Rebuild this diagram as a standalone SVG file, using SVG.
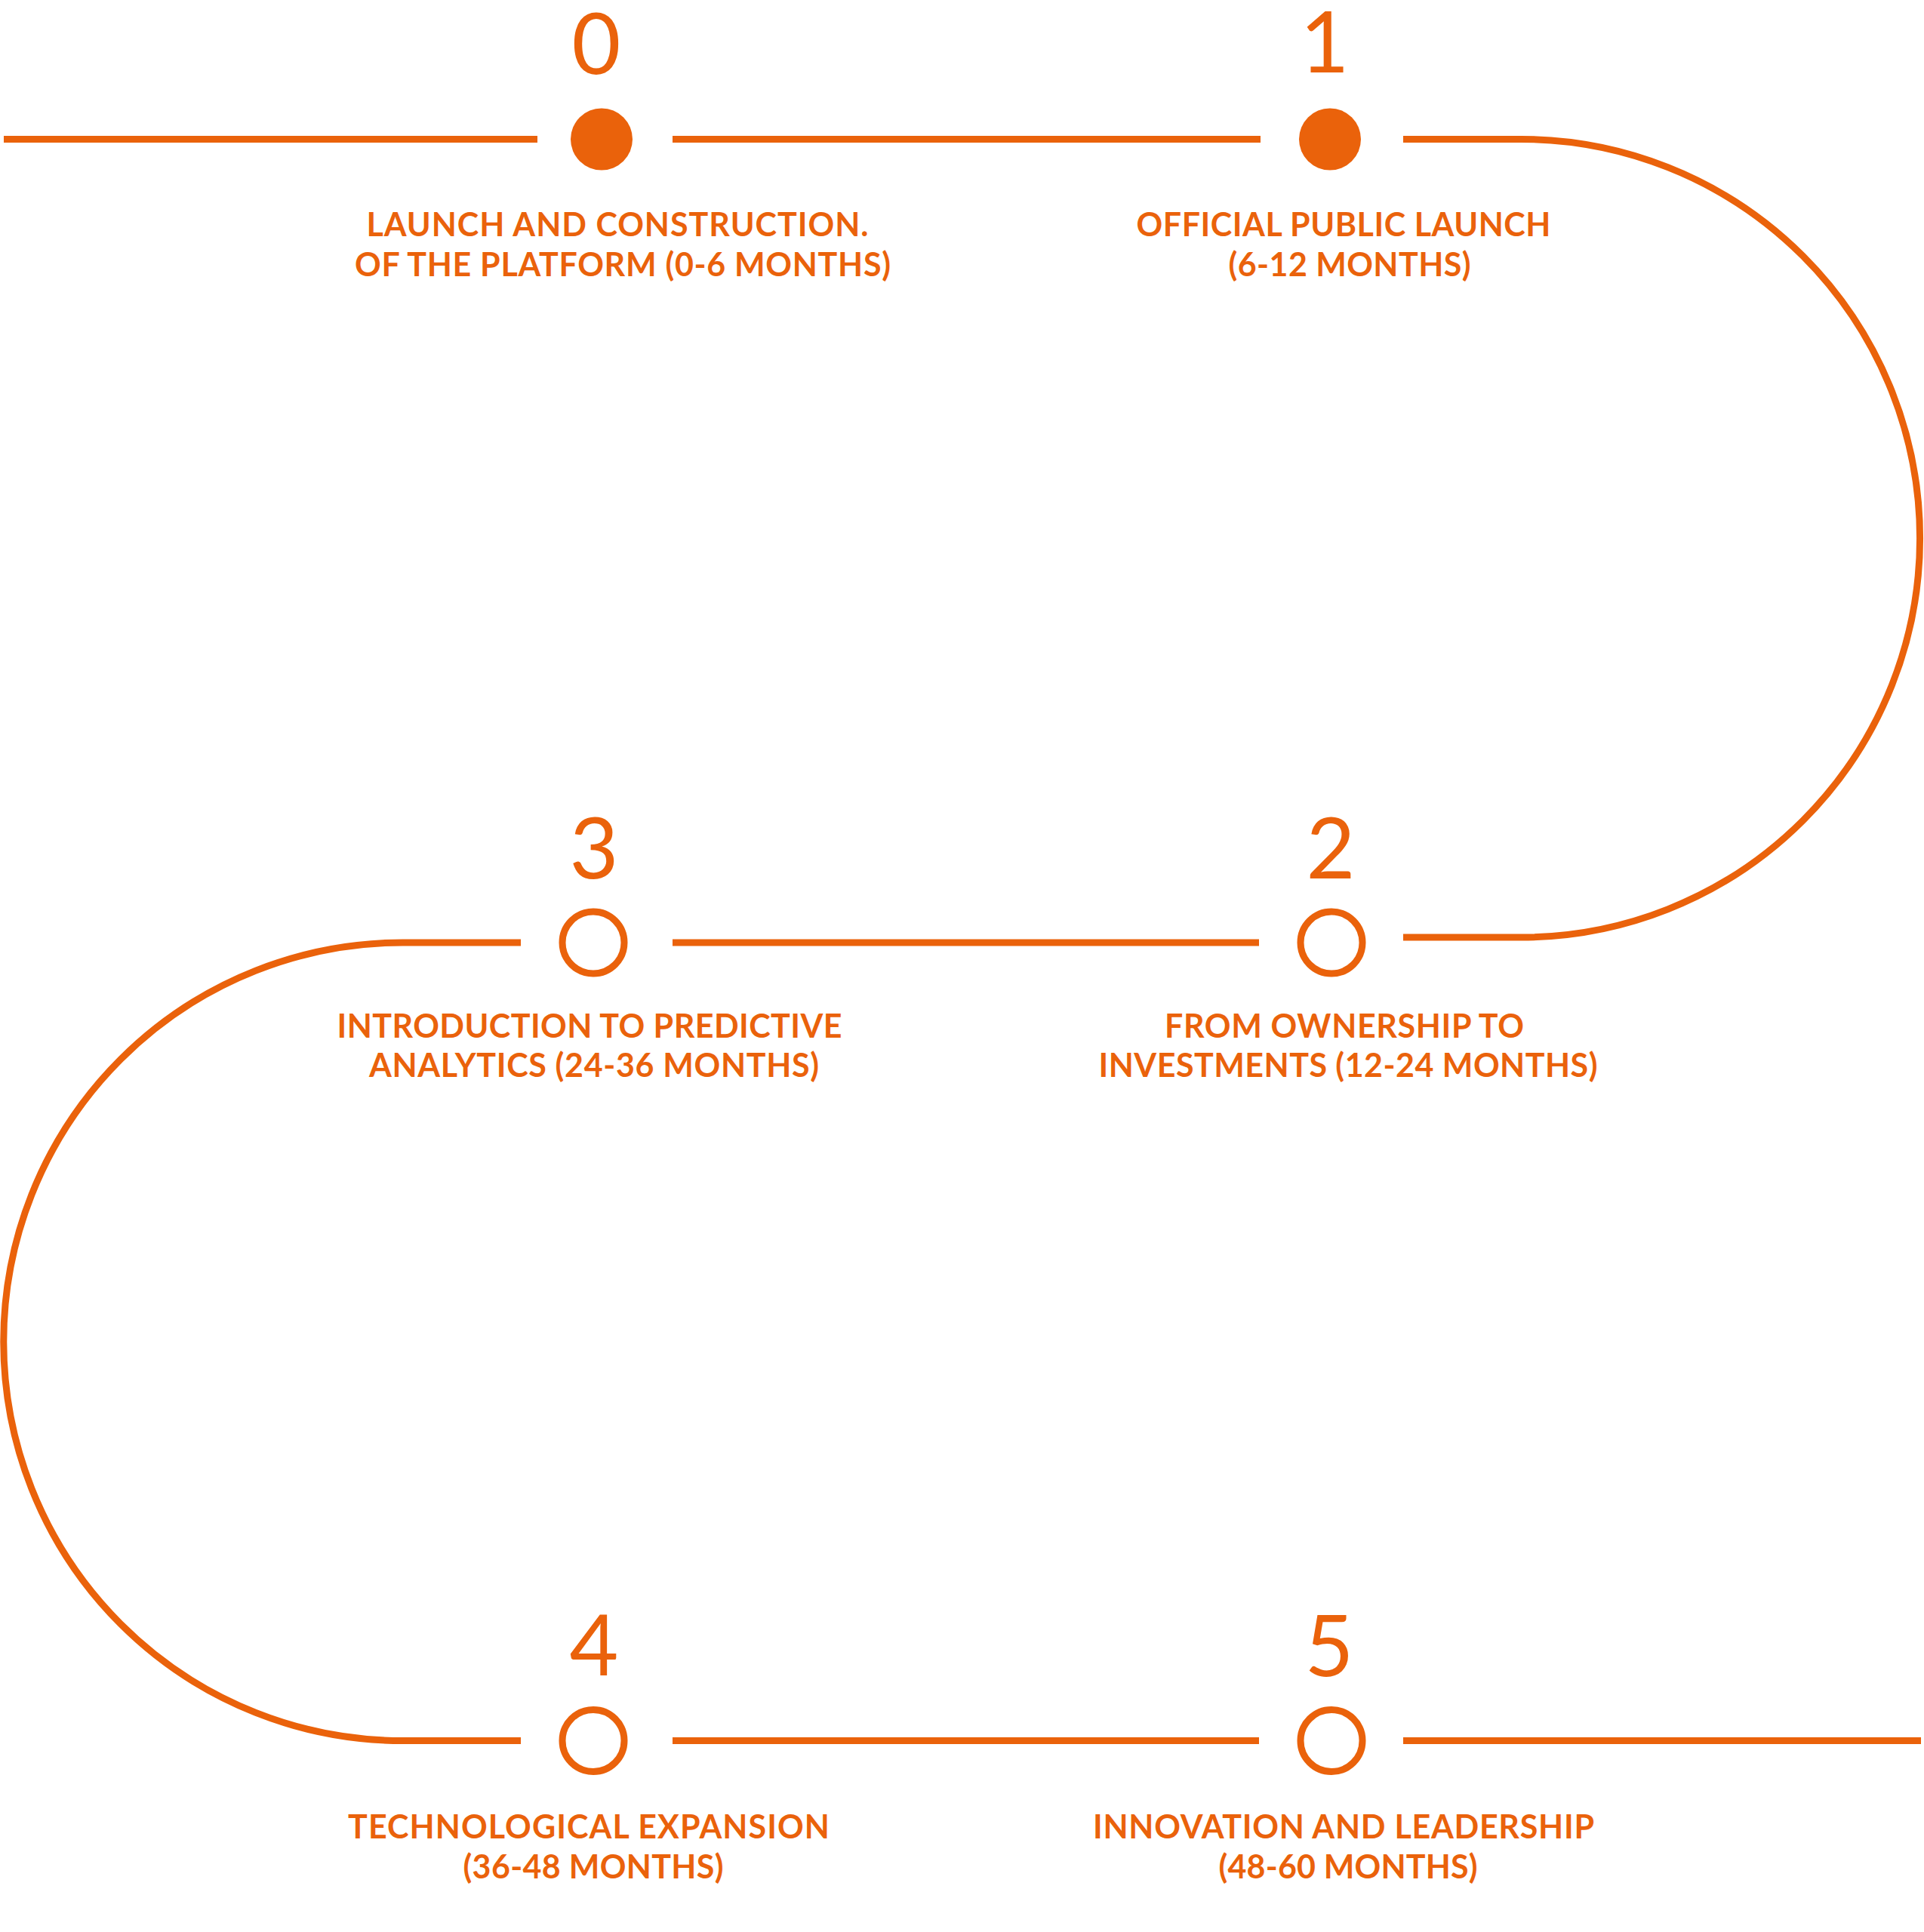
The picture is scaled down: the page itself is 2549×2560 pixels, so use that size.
<svg xmlns="http://www.w3.org/2000/svg" width="2549" height="2560" viewBox="0 0 2549 2560">
<style>
.ln{fill:none;stroke:#EA620B;stroke-width:9}
.dot{fill:#EA620B}
.ring{fill:none;stroke:#EA620B;stroke-width:9}
.num{font-family:Lato,"Noto Sans",sans-serif;font-weight:400;font-size:112px;fill:#EA620B;text-anchor:middle}
.lbl{font-family:Lato,"Noto Sans",sans-serif;font-weight:700;font-size:43px;fill:#EA620B;text-anchor:middle}
</style>
<rect width="2549" height="2560" fill="#FFFFFF"/>
<g id="connectors">
<path class="ln" d="M5 184.5H712"/>
<path class="ln" d="M891 184.5H1670"/>
<path class="ln" d="M1859 184.5H2015A528.75 528.75 0 0 1 2015 1242H1859"/>
<path class="ln" d="M891 1249H1668"/>
<path class="ln" d="M690 1249H533.5A528.25 528.25 0 0 0 533.5 2306.5H690"/>
<path class="ln" d="M891 2306.5H1668"/>
<path class="ln" d="M1859 2306.5H2545"/>
</g>
<g id="node0">
<circle class="dot" cx="797" cy="184.5" r="41"/>
<text class="num" x="790" y="98">0</text>
<text class="lbl" x="818" y="313" textLength="665">LAUNCH AND CONSTRUCTION.</text>
<text class="lbl" x="825" y="366" textLength="710">OF THE PLATFORM (0-6 MONTHS)</text>
</g>
<g id="node1">
<circle class="dot" cx="1762" cy="184.5" r="41"/>
<text class="num" x="1755" y="96">1</text>
<text class="lbl" x="1780" y="313" textLength="549">OFFICIAL PUBLIC LAUNCH</text>
<text class="lbl" x="1788" y="366" textLength="321">(6-12 MONTHS)</text>
</g>
<g id="node2">
<circle class="ring" cx="1764" cy="1249" r="41"/>
<text class="num" x="1763" y="1164">2</text>
<text class="lbl" x="1781" y="1375" textLength="476">FROM OWNERSHIP TO</text>
<text class="lbl" x="1786" y="1427" textLength="661">INVESTMENTS (12-24 MONTHS)</text>
</g>
<g id="node3">
<circle class="ring" cx="786" cy="1249" r="41"/>
<text class="num" x="787" y="1164">3</text>
<text class="lbl" x="781" y="1375" textLength="669">INTRODUCTION TO PREDICTIVE</text>
<text class="lbl" x="787" y="1427" textLength="596">ANALYTICS (24-36 MONTHS)</text>
</g>
<g id="node4">
<circle class="ring" cx="786" cy="2306.5" r="41"/>
<text class="num" x="787" y="2220">4</text>
<text class="lbl" x="780" y="2436" textLength="638">TECHNOLOGICAL EXPANSION</text>
<text class="lbl" x="786" y="2489" textLength="345">(36-48 MONTHS)</text>
</g>
<g id="node5">
<circle class="ring" cx="1764" cy="2306.5" r="41"/>
<text class="num" x="1761" y="2221">5</text>
<text class="lbl" x="1780" y="2436" textLength="664">INNOVATION AND LEADERSHIP</text>
<text class="lbl" x="1786" y="2489" textLength="343">(48-60 MONTHS)</text>
</g>
</svg>
